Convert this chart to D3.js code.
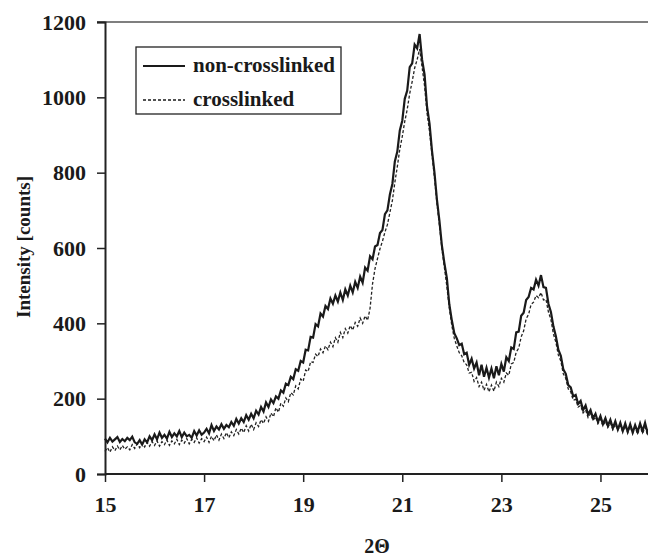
<!DOCTYPE html>
<meta charset="utf-8">
<script src="https://d3js.org/d3.v7.min.js"></script>
<style>
  body { margin: 0; background: #fff; }
  text { font-family: "Liberation Serif", "Times New Roman", serif; fill: #1a1a1a; }
</style>
<div id="chart"></div>
<script>
    var width = 648
    var height = 558

    // 2-theta sampling (degrees)
    var twoTheta = [
        15.00, 15.05, 15.10, 15.15, 15.20, 15.25, 15.30, 15.35, 15.40, 15.45, 15.50, 15.55, 15.60, 15.65, 15.70, 15.75, 15.80, 15.85, 15.90, 15.95,
        16.00, 16.05, 16.10, 16.15, 16.20, 16.25, 16.30, 16.35, 16.40, 16.45, 16.50, 16.55, 16.60, 16.65, 16.70, 16.75, 16.80, 16.85, 16.90, 16.95,
        17.00, 17.05, 17.10, 17.15, 17.20, 17.25, 17.30, 17.35, 17.40, 17.45, 17.50, 17.55, 17.60, 17.65, 17.70, 17.75, 17.80, 17.85, 17.90, 17.95,
        18.00, 18.05, 18.10, 18.15, 18.20, 18.25, 18.30, 18.35, 18.40, 18.45, 18.50, 18.55, 18.60, 18.65, 18.70, 18.75, 18.80, 18.85, 18.90, 18.95,
        19.00, 19.05, 19.10, 19.15, 19.20, 19.25, 19.30, 19.35, 19.40, 19.45, 19.50, 19.55, 19.60, 19.65, 19.70, 19.75, 19.80, 19.85, 19.90, 19.95,
        20.00, 20.05, 20.10, 20.15, 20.20, 20.25, 20.30, 20.35, 20.40, 20.45, 20.50, 20.55, 20.60, 20.65, 20.70, 20.75, 20.80, 20.85, 20.90, 20.95,
        21.00, 21.05, 21.10, 21.15, 21.20, 21.25, 21.30, 21.35, 21.40, 21.45, 21.50, 21.55, 21.60, 21.65, 21.70, 21.75, 21.80, 21.85, 21.90, 21.95,
        22.00, 22.05, 22.10, 22.15, 22.20, 22.25, 22.30, 22.35, 22.40, 22.45, 22.50, 22.55, 22.60, 22.65, 22.70, 22.75, 22.80, 22.85, 22.90, 22.95,
        23.00, 23.05, 23.10, 23.15, 23.20, 23.25, 23.30, 23.35, 23.40, 23.45, 23.50, 23.55, 23.60, 23.65, 23.70, 23.75, 23.80, 23.85, 23.90, 23.95,
        24.00, 24.05, 24.10, 24.15, 24.20, 24.25, 24.30, 24.35, 24.40, 24.45, 24.50, 24.55, 24.60, 24.65, 24.70, 24.75, 24.80, 24.85, 24.90, 24.95,
        25.00, 25.05, 25.10, 25.15, 25.20, 25.25, 25.30, 25.35, 25.40, 25.45, 25.50, 25.55, 25.60, 25.65, 25.70, 25.75, 25.80, 25.85, 25.90, 25.95,
        26.00
    ]

    var nonCrosslinked = [
        94, 84, 96, 86, 92, 98, 85, 93, 87, 96, 90, 99, 84, 80, 90, 78, 92, 84, 100, 90,
        105, 92, 110, 96, 104, 94, 112, 98, 108, 100, 114, 98, 110, 100, 104, 96, 114, 102, 116, 104,
        110, 120, 108, 130, 114, 126, 118, 132, 120, 130, 124, 138, 128, 146, 134, 148, 138, 156, 144, 160,
        148, 168, 158, 178, 166, 190, 178, 198, 188, 206, 200, 222, 216, 240, 236, 258, 252, 278, 274, 300,
        296, 330, 328, 364, 362, 398, 392, 426, 418, 446, 438, 466, 452, 474, 458, 482, 462, 490, 474, 500,
        482, 510, 494, 524, 508, 548, 540, 578, 570, 604, 608, 640, 648, 690, 700, 742, 770, 830, 856, 912,
        938, 996, 1018, 1080, 1090, 1140, 1130, 1168, 1100, 1060, 975, 930, 858, 800, 728, 672, 606, 560, 520, 450,
        408, 374, 360, 342, 346, 318, 322, 290, 306, 280, 296, 262, 290, 258, 282, 256, 280, 254, 286, 262,
        292, 272, 310, 300, 336, 332, 376, 378, 420, 428, 462, 470, 494, 490, 516, 500, 528, 496, 494, 452,
        430, 392, 366, 330, 314, 278, 266, 236, 230, 206, 210, 186, 194, 170, 182, 158, 170, 148, 160, 138,
        154, 132, 148, 128, 144, 122, 140, 118, 136, 114, 134, 112, 132, 110, 130, 112, 134, 114, 136, 110,
        124
    ]

    var crosslinked = [
        60, 70, 58, 72, 62, 74, 64, 76, 66, 72, 64, 78, 68, 80, 70, 82, 72, 84, 74, 86,
        76, 88, 74, 86, 78, 90, 76, 88, 80, 92, 78, 90, 82, 94, 80, 92, 84, 96, 82, 94,
        86, 98, 84, 100, 88, 104, 90, 106, 94, 110, 96, 112, 102, 118, 106, 122, 110, 128, 114, 132,
        118, 136, 126, 144, 134, 152, 140, 162, 152, 176, 164, 188, 180, 202, 192, 216, 210, 234, 226, 252,
        246, 276, 272, 298, 296, 318, 312, 332, 322, 340, 330, 350, 338, 362, 350, 376, 362, 386, 374, 394,
        382, 402, 392, 414, 400, 420, 408, 440, 505, 545, 572, 598, 618, 642, 662, 694, 726, 774, 816, 862,
        896, 936, 968, 1010, 1042, 1078, 1100, 1128, 1080, 1030, 958, 910, 848, 786, 718, 660, 598, 548, 498, 440,
        394, 360, 340, 322, 314, 296, 290, 268, 270, 246, 256, 232, 244, 222, 238, 218, 236, 220, 244, 232,
        254, 244, 268, 262, 292, 296, 324, 334, 364, 380, 412, 424, 450, 456, 474, 468, 482, 462, 464, 430,
        410, 372, 350, 316, 300, 266, 254, 226, 218, 196, 198, 178, 182, 162, 170, 150, 160, 142, 152, 134,
        146, 128, 140, 124, 136, 118, 132, 116, 130, 112, 128, 110, 126, 108, 124, 106, 126, 108, 124, 104,
        118
    ]

    var xTicks = [15, 17, 19, 21, 23, 25]
    var yTicks = [0, 200, 400, 600, 800, 1000, 1200]
    var seriesNames = ["non-crosslinked", "crosslinked"]

    var plotLeft = 105, plotRight = 650, plotTop = 22, plotBottom = 474

    var svg = d3.select("#chart")
        .append("svg")
        .attr("width", width)
        .attr("height", height)

    var x = d3.scaleLinear().domain([15, 26]).range([plotLeft, plotRight])
    var y = d3.scaleLinear().domain([0, 1200]).range([plotBottom, plotTop])

    // frame top line
    svg.append("line")
        .attr("x1", plotLeft - 8).attr("x2", width)
        .attr("y1", plotTop).attr("y2", plotTop)
        .attr("stroke", "#555").attr("stroke-width", 1.5)

    var xAxis = svg.append("g")
        .attr("transform", "translate(0," + plotBottom + ")")
        .call(d3.axisBottom(x).tickValues(xTicks).tickSize(8).tickPadding(14).tickFormat(d3.format("d")))
    xAxis.select(".domain").attr("d", "M" + plotLeft + ",0H" + width)

    var yAxis = svg.append("g")
        .attr("transform", "translate(" + plotLeft + ",0)")
        .call(d3.axisLeft(y).tickValues(yTicks).tickSize(8).tickPadding(11).tickFormat(d3.format("d")))

    svg.selectAll(".domain").attr("stroke", "#222").attr("stroke-width", 2)
    svg.selectAll(".tick line").attr("stroke", "#222").attr("stroke-width", 1.5)
    svg.selectAll(".tick text")
        .attr("font-family", "Liberation Serif, serif")
        .attr("font-weight", "bold")
        .attr("font-size", 22)
        .attr("fill", "#1a1a1a")

    var line = d3.line()
        .x(function (d, i) { return x(twoTheta[i]) })
        .y(function (d) { return y(d) })

    svg.append("path")
        .datum(crosslinked)
        .attr("d", line)
        .attr("fill", "none")
        .attr("stroke", "#222")
        .attr("stroke-width", 1.3)
        .attr("stroke-dasharray", "3,2")

    svg.append("path")
        .datum(nonCrosslinked)
        .attr("d", line)
        .attr("fill", "none")
        .attr("stroke", "#1a1a1a")
        .attr("stroke-width", 2.2)

    // axis titles
    svg.append("text")
        .attr("transform", "translate(30,247) rotate(-90)")
        .attr("text-anchor", "middle")
        .attr("font-size", 19)
        .attr("font-weight", "bold")
        .text("Intensity [counts]")

    svg.append("text")
        .attr("x", 377).attr("y", 553)
        .attr("text-anchor", "middle")
        .attr("font-size", 20)
        .attr("font-weight", "bold")
        .text("2Θ")

    // legend
    var legend = svg.append("g")
    legend.append("rect")
        .attr("x", 136).attr("y", 47)
        .attr("width", 205).attr("height", 67)
        .attr("fill", "#fff")
        .attr("stroke", "#222").attr("stroke-width", 1.3)

    seriesNames.forEach(function (name, i) {
        var ly = 66 + i * 34
        legend.append("line")
            .attr("x1", 143).attr("x2", 185)
            .attr("y1", ly).attr("y2", ly)
            .attr("stroke", "#1a1a1a")
            .attr("stroke-width", i == 0 ? 2.2 : 1.3)
            .attr("stroke-dasharray", i == 0 ? null : "3,2")
        legend.append("text")
            .attr("x", 193).attr("y", ly + 6)
            .attr("font-size", 21)
            .attr("font-weight", "bold")
            .text(name)
    })
</script>
